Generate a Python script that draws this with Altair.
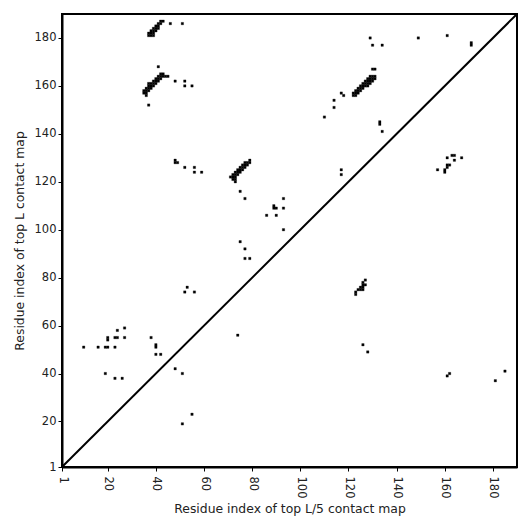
import altair as alt
import pandas as pd

N = 190
ticks = [1, 20, 40, 60, 80, 100, 120, 140, 160, 180]

band_181 = [(37, 181), (38, 181), (39, 181), (37, 182), (38, 182), (39, 182),
            (38, 183), (39, 183), (40, 183), (39, 184), (40, 184), (41, 184),
            (40, 185), (41, 185), (41, 186), (42, 186), (42, 187), (43, 187)]
band_160 = [(36, 156), (35, 157), (36, 157), (35, 158), (36, 158), (37, 158),
            (36, 159), (37, 159), (38, 159), (37, 160), (38, 160), (39, 160),
            (37, 161), (38, 161), (39, 161), (40, 161), (39, 162), (40, 162), (41, 162),
            (40, 163), (41, 163), (42, 163), (41, 164), (42, 164), (43, 164), (44, 164),
            (45, 164), (42, 165), (43, 165)]
band_125 = [(71, 122), (72, 122), (73, 122), (72, 123), (73, 123), (74, 123),
            (73, 124), (74, 124), (75, 124), (74, 125), (75, 125), (76, 125),
            (75, 126), (76, 126), (77, 126), (76, 127), (77, 127), (78, 127),
            (77, 128), (78, 128), (79, 128), (79, 129), (73, 121), (73, 120), (72, 121)]
band_right = [(122, 156), (123, 156), (122, 157), (123, 157), (124, 157),
              (123, 158), (124, 158), (125, 158), (124, 159), (125, 159), (126, 159),
              (125, 160), (126, 160), (127, 160), (128, 160), (126, 161), (127, 161),
              (128, 161), (129, 161), (127, 162), (128, 162), (129, 162), (130, 162),
              (128, 163), (129, 163), (130, 163), (131, 163), (129, 164), (130, 164), (131, 164)]
upper_dots = [(46, 186), (51, 186), (41, 168), (37, 152), (48, 162), (52, 162), (52, 160),
              (55, 160), (48, 129), (48, 128), (49, 128), (52, 126), (56, 126), (56, 124),
              (59, 124), (75, 116), (77, 113), (93, 113), (89, 110), (89, 109), (90, 109),
              (93, 109), (86, 106), (90, 106), (93, 100), (75, 95), (77, 92), (77, 88),
              (79, 88), (53, 76), (52, 74), (56, 74), (10, 51), (16, 51), (19, 51), (20, 51),
              (23, 51), (20, 54), (20, 55), (23, 55), (24, 55), (27, 55), (24, 58), (27, 59),
              (38, 55), (40, 52), (40, 51), (40, 48), (42, 48), (19, 40), (23, 38), (26, 38),
              (130, 167), (131, 167), (129, 180), (130, 177), (134, 177), (117, 157),
              (118, 156), (114, 154), (114, 151), (110, 147), (133, 144), (133, 145),
              (134, 141), (117, 125), (117, 123), (149, 180), (161, 181), (171, 177), (171, 178)]
lower_dots = [(127, 79), (126, 78), (126, 77), (127, 77), (125, 76), (126, 76), (125, 75),
              (126, 75), (124, 75), (123, 74), (123, 73), (126, 52), (128, 49), (161, 39),
              (162, 40), (181, 37), (185, 41), (74, 56), (55, 23), (51, 19), (48, 42), (51, 40),
              (161, 130), (163, 131), (164, 131), (164, 129), (167, 130), (161, 127), (162, 127),
              (161, 126), (160, 125), (160, 124), (157, 125)]

pairs = band_181 + band_160 + band_125 + band_right + upper_dots + lower_dots
df = pd.DataFrame(pairs, columns=["i", "j"])
diag_df = pd.DataFrame({"a": [1, N]})

sx = alt.Scale(domain=[1, N], nice=False, zero=False)
sy = alt.Scale(domain=[1, N], nice=False, zero=False)

cells = (
    alt.Chart(df)
    .transform_calculate(
        x0="datum.i - 0.5", x1="datum.i + 0.5",
        y0="datum.j - 0.5", y1="datum.j + 0.5",
    )
    .mark_rect(color="black", stroke="black", strokeWidth=0.3, clip=True)
    .encode(
        x=alt.X("x0:Q", scale=sx,
                axis=alt.Axis(values=ticks, title="Residue index of top L/5 contact map",
                              labelAngle=90, labelPadding=5, titlePadding=5)),
        x2="x1:Q",
        y=alt.Y("y0:Q", scale=sy,
                axis=alt.Axis(values=ticks, title="Residue index of top L contact map",
                              titlePadding=8)),
        y2="y1:Q",
    )
)

diag = (
    alt.Chart(diag_df)
    .mark_line(color="black", strokeWidth=2, clip=True)
    .encode(x=alt.X("a:Q", scale=sx), y=alt.Y("a:Q", scale=sy))
)

chart = (
    alt.layer(cells, diag)
    .properties(
        width=455, height=453,
        autosize=alt.AutoSizeParams(type="none"),
        padding={"left": 54, "top": 6, "right": 6, "bottom": 56},
    )
    .configure_view(stroke="black", strokeWidth=2)
    .configure_axis(
        grid=False,
        domainColor="black", domainWidth=2,
        tickColor="black", tickSize=4, tickWidth=1,
        labelColor="#222222", labelFont="DejaVu Sans", labelFontSize=11.5,
        titleColor="#222222", titleFont="DejaVu Sans", titleFontSize=12.4,
        titleFontWeight="normal",
    )
)

chart.save("out.html", embed_options={"renderer": "svg", "actions": False})
